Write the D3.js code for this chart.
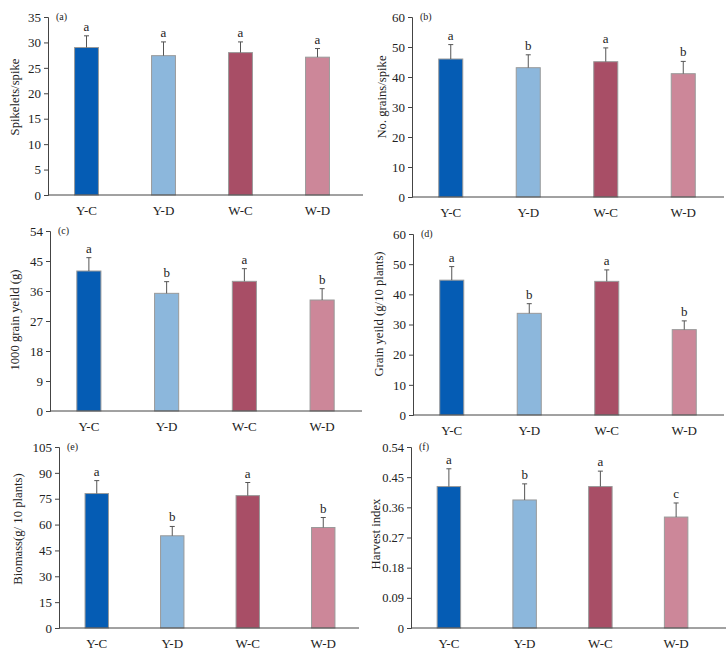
<!DOCTYPE html>
<html>
<head>
<meta charset="utf-8">
<script src="https://d3js.org/d3.v7.min.js"></script>
<style>
  body { margin: 0; background: #fff; }
</style>
</head>
<body>
<script>
// treatments + colours
const groups = ["Y-C", "Y-D", "W-C", "W-D"];
const barColors = ["#055cb4", "#8cb7dc", "#a84e66", "#cc8799"];
const FONT = '"Liberation Serif"';

// (a) spikelets per spike
const spikelets = [29.0, 27.4, 28.0, 27.1];
const spikeletsErr = [2.3, 2.7, 2.1, 1.7];
const spikeletsSig = ["a", "a", "a", "a"];

// (b) grains per spike
const grains = [46.0, 43.1, 45.1, 41.1];
const grainsErr = [4.8, 4.3, 4.6, 4.1];
const grainsSig = ["a", "b", "a", "b"];

// (c) 1000 grain weight
const tgw = [42.0, 35.3, 38.9, 33.3];
const tgwErr = [4.0, 3.5, 3.8, 3.4];
const tgwSig = ["a", "b", "a", "b"];

// (d) grain yield
const grainYield = [44.7, 33.7, 44.3, 28.3];
const grainYieldErr = [4.5, 3.2, 3.8, 2.9];
const grainYieldSig = ["a", "b", "a", "b"];

// (e) biomass
const biomass = [78.0, 53.5, 76.8, 58.3];
const biomassErr = [7.5, 5.4, 7.6, 5.8];
const biomassSig = ["a", "b", "a", "b"];

// (f) harvest index
const harvest = [0.422, 0.382, 0.422, 0.331];
const harvestErr = [0.053, 0.048, 0.046, 0.042];
const harvestSig = ["a", "b", "a", "c"];

// panel layout (pixel frame of each subplot)
const panels = [
  { tag: "(a)", title: "Spikelets/spike", vals: spikelets, err: spikeletsErr, sig: spikeletsSig,
    ticks: [0, 5, 10, 15, 20, 25, 30, 35], left: 48, top: 17, bottom: 195, width: 308, end: 363, tx: 19, ty: 97, fs: 13 },
  { tag: "(b)", title: "No. grains/spike", vals: grains, err: grainsErr, sig: grainsSig,
    ticks: [0, 10, 20, 30, 40, 50, 60], left: 412, top: 17, bottom: 197, width: 310, end: 724, tx: 386, ty: 97, fs: 13 },
  { tag: "(c)", title: "1000 grain yeild (g)", vals: tgw, err: tgwErr, sig: tgwSig,
    ticks: [0, 9, 18, 27, 36, 45, 54], left: 50, top: 231, bottom: 411, width: 311, end: 362, tx: 19, ty: 320, fs: 13 },
  { tag: "(d)", title: "Grain yeild (g/10 plants)", vals: grainYield, err: grainYieldErr, sig: grainYieldSig,
    ticks: [0, 10, 20, 30, 40, 50, 60], left: 413, top: 234, bottom: 415, width: 310, end: 724, tx: 383, ty: 314, fs: 13 },
  { tag: "(e)", title: "Biomass(g/ 10 plants)", vals: biomass, err: biomassErr, sig: biomassSig,
    ticks: [0, 15, 30, 45, 60, 75, 90, 105], left: 59, top: 447, bottom: 628, width: 302, end: 359, tx: 22, ty: 529, fs: 13 },
  { tag: "(f)", title: "Harvest index", vals: harvest, err: harvestErr, sig: harvestSig,
    ticks: [0, 0.09, 0.18, 0.27, 0.36, 0.45, 0.54], left: 411, top: 447, bottom: 628, width: 303, end: 726, tx: 380, ty: 534, fs: 12.5 }
];

const svg = d3.select("body").append("svg")
  .attr("width", 728)
  .attr("height", 651)
  .style("font-family", FONT);

panels.forEach(drawPanel);

function drawPanel(p) {
  const g = svg.append("g");
  const y = d3.scaleLinear()
    .domain([0, p.ticks[p.ticks.length - 1]])
    .range([p.bottom, p.top]);
  const x = d3.scaleBand()
    .domain(groups)
    .range([p.left, p.left + p.width])
    .paddingInner(0.69)
    .paddingOuter(0.345);

  const data = groups.map((k, i) => ({ k, v: p.vals[i], e: p.err[i], s: p.sig[i], c: barColors[i] }));

  // bars
  g.selectAll(".bar").data(data).enter().append("rect")
    .attr("class", "bar")
    .attr("x", d => x(d.k))
    .attr("width", x.bandwidth())
    .attr("y", d => y(d.v))
    .attr("height", d => y(0) - y(d.v))
    .style("fill", d => d.c)
    .style("stroke", "#9a9a9a")
    .style("stroke-width", 1);

  // error bars (upper only)
  let cx = d => x(d.k) + x.bandwidth() / 2;
  g.selectAll(".err").data(data).enter().append("line")
    .attr("x1", cx).attr("x2", cx)
    .attr("y1", d => y(d.v)).attr("y2", d => y(d.v + d.e))
    .style("stroke", "#555").style("stroke-width", 1);
  g.selectAll(".cap").data(data).enter().append("line")
    .attr("x1", d => cx(d) - 2.5).attr("x2", d => cx(d) + 2.5)
    .attr("y1", d => y(d.v + d.e)).attr("y2", d => y(d.v + d.e))
    .style("stroke", "#555").style("stroke-width", 1);

  // significance letters
  g.selectAll(".sig").data(data).enter().append("text")
    .attr("x", cx)
    .attr("y", d => y(d.v + d.e) - 5)
    .attr("text-anchor", "middle")
    .style("font-family", FONT)
    .style("font-size", "13px")
    .style("fill", "#222")
    .text(d => d.s);

  // y axis
  let yAxis = g.append("g")
    .attr("transform", `translate(${p.left},0)`)
    .call(d3.axisLeft(y).tickValues(p.ticks).tickSize(4).tickPadding(3)
      .tickFormat(d => String(+d.toFixed(2))));
  yAxis.attr("font-family", null);
  yAxis.select(".domain").attr("stroke", "#444");
  yAxis.selectAll(".tick line").attr("stroke", "#444");
  yAxis.selectAll("text")
    .style("font-family", FONT)
    .style("font-size", p.fs + "px")
    .attr("fill", "#222");

  // x axis line + labels
  g.append("line")
    .attr("x1", p.left).attr("x2", p.end)
    .attr("y1", p.bottom).attr("y2", p.bottom)
    .style("stroke", "#444");
  g.selectAll(".xl").data(groups).enter().append("text")
    .attr("x", d => x(d) + x.bandwidth() / 2)
    .attr("y", p.bottom + 20)
    .attr("text-anchor", "middle")
    .style("font-family", FONT)
    .style("font-size", "13px")
    .style("fill", "#222")
    .text(d => d);

  // panel tag
  g.append("text")
    .attr("x", p.left + 8)
    .attr("y", p.top + 3)
    .style("font-family", FONT)
    .style("font-size", "10px")
    .style("fill", "#222")
    .text(p.tag);

  // y title
  g.append("text")
    .attr("transform", `translate(${p.tx},${p.ty}) rotate(-90)`)
    .attr("text-anchor", "middle")
    .style("font-family", FONT)
    .style("font-size", "12.7px")
    .style("fill", "#222")
    .text(p.title);
}
</script>
</body>
</html>
